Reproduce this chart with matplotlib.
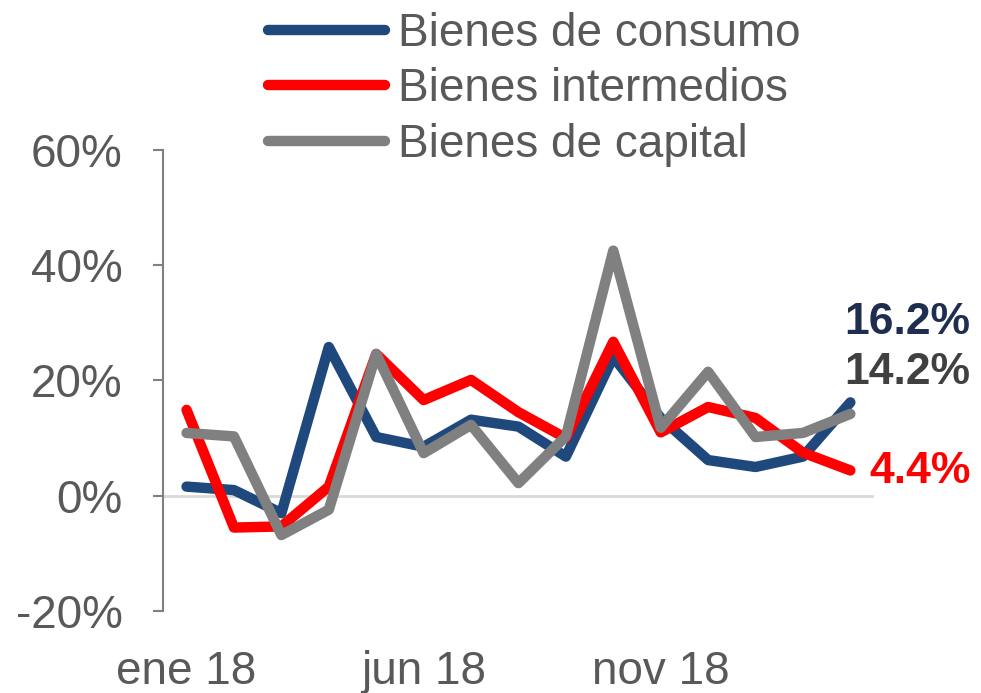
import numpy as np
import matplotlib
matplotlib.use("Agg")
import matplotlib.pyplot as plt

plt.rcParams['font.family'] = ['Liberation Sans', 'DejaVu Sans']

# Monthly growth rates (%), ene 18 .. mar 19
months = ["ene 18", "feb 18", "mar 18", "abr 18", "may 18", "jun 18", "jul 18", "ago 18",
          "sep 18", "oct 18", "nov 18", "dic 18", "ene 19", "feb 19", "mar 19"]
consumo = [1.6, 1.0, -3.0, 25.8, 10.2, 8.5, 13.2, 12.0, 6.8, 24.1, 13.5, 6.2, 5.0, 6.8, 16.2]
intermedios = [14.9, -5.5, -5.3, 1.6, 24.6, 16.6, 20.1, 14.5, 10.0, 26.7, 11.0, 15.4, 13.5, 7.5, 4.4]
capital = [10.9, 10.3, -6.8, -2.4, 24.6, 7.4, 12.3, 2.2, 10.3, 42.5, 11.8, 21.5, 10.2, 10.9, 14.2]
tick_idx = [0, 5, 10]
yticks = [-20, 0, 20, 40, 60]

c_blue = "#1F497D"
c_red = "#FF0000"
c_gray = "#808080"
txt = "#595959"

fig = plt.figure(figsize=(9.81, 6.93), dpi=100)
ax = fig.add_axes([0.166, 0.118, 0.725, 0.666])

x = np.arange(len(months))
ax.axhline(0, color="#D9D9D9", lw=2, zorder=1)
l1, = ax.plot(x, consumo, color=c_blue, lw=7.5, solid_joinstyle="round",
              solid_capstyle="round", label="Bienes de consumo", zorder=3)
l2, = ax.plot(x, intermedios, color=c_red, lw=7.5, solid_joinstyle="round",
              solid_capstyle="round", label="Bienes intermedios", zorder=4)
l3, = ax.plot(x, capital, color=c_gray, lw=7.5, solid_joinstyle="round",
              solid_capstyle="round", label="Bienes de capital", zorder=5)

ax.set_xlim(-0.5, len(months) - 0.5)
ax.set_ylim(-20, 60)
ax.set_yticks(yticks)
ax.set_yticklabels([f"{v}%" for v in yticks])
ax.set_xticks(tick_idx)
ax.set_xticklabels([months[i] for i in tick_idx])

for s in ["top", "right", "bottom"]:
    ax.spines[s].set_visible(False)
ax.spines["left"].set_color(c_gray)
ax.spines["left"].set_linewidth(1.5)
ax.tick_params(axis="y", colors=c_gray, labelcolor=txt, labelsize=33,
               length=7, width=1.5, pad=22)
ax.tick_params(axis="x", length=0, labelcolor=txt, labelsize=33, pad=28)

# end labels
ax.text(15.2, 30.0, f"{consumo[-1]:.1f}%", color="#1F2D50",
        fontsize=32, fontweight="bold", ha="center", va="center", clip_on=False)
ax.text(15.2, 21.3, f"{capital[-1]:.1f}%", color="#404040",
        fontsize=32, fontweight="bold", ha="center", va="center", clip_on=False)
ax.text(15.46, 4.3, f"{intermedios[-1]:.1f}%", color=c_red,
        fontsize=32, fontweight="bold", ha="center", va="center", clip_on=False)

leg = fig.legend(handles=[l1, l2, l3], loc="upper left",
                 bbox_to_anchor=(0.273, 0.983), frameon=False, fontsize=33,
                 handlelength=2.55, handletextpad=0.28, labelspacing=0.25,
                 borderpad=0, borderaxespad=0)
for t in leg.get_texts():
    t.set_color(txt)

fig.savefig("out.png", dpi=100)
